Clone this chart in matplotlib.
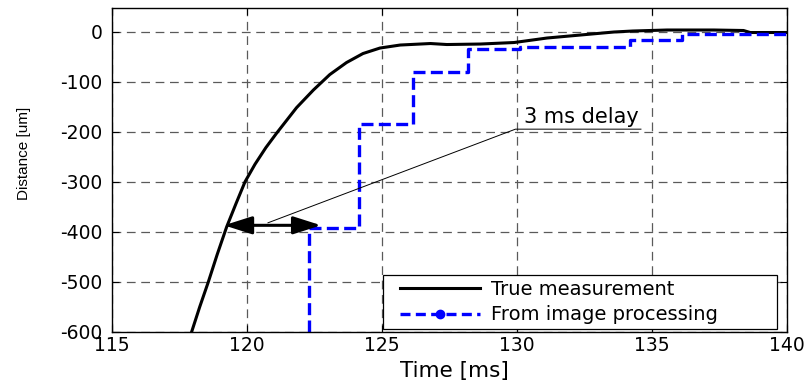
import numpy as np
import matplotlib
matplotlib.use('Agg')
import matplotlib.pyplot as plt
from matplotlib.lines import Line2D
from matplotlib.legend_handler import HandlerLine2D

plt.rcParams['font.family'] = ['DejaVu Sans']
plt.rcParams['axes.unicode_minus'] = False

t_true = [117.95, 118.25, 118.57, 118.9, 119.25, 119.6, 119.93, 120.3, 120.7, 121.1,
          121.84, 122.46, 123.07, 123.69, 124.3, 124.93, 125.68, 126.8, 127.41, 128.65,
          129.9, 131.12, 132.36, 133.6, 134.3, 135.57, 137.3, 138.4, 138.65, 140.0]
d_true = [-600, -550, -500, -445, -390, -343, -300, -265, -232, -203,
          -152, -117, -86, -62, -44, -33, -27, -24, -26, -25,
          -22, -13, -7, -1, 1, 3, 3, 2, -2, -2]

# image processing steps
t_img = [122.3, 122.3, 124.15, 124.15, 126.15, 126.15, 128.2, 128.2, 130.13, 130.13,
         134.2, 134.2, 136.13, 136.13, 140.0]
d_img = [-600, -393, -393, -185, -185, -80, -80, -35, -35, -30,
         -30, -17, -17, -4, -4]

xticks = [115, 120, 125, 130, 135, 140]
yticks = [-600, -500, -400, -300, -200, -100, 0]

# delay annotation
arrow_t = [119.15, 122.75]
arrow_d = -387
note_t = [120.78, 129.95, 134.6]
note_d = [-382, -195, -195]

fig = plt.figure(figsize=(8.08, 3.85), dpi=100)
ax = fig.add_axes([0.1386, 0.1377, 0.835, 0.8416])

ax.plot(t_true, d_true, color='black', lw=2.2)
ax.plot(t_img, d_img, color='blue', lw=2.4, ls=(0, (3.6, 1.6)))

ax.set_xlim(115, 140)
ax.set_ylim(-600, 47)
ax.set_xticks(xticks)
ax.set_yticks(yticks)
ax.tick_params(direction='in', top=True, right=True, labelsize=13.5, length=5)
ax.tick_params(axis='x', pad=3)
ax.tick_params(axis='y', pad=7)
ax.grid(True, ls=(0, (7, 4.5)), color='#5a5a5a', lw=0.9)
for s in ax.spines.values():
    s.set_linewidth(1.0)

ax.set_xlabel('Time [ms]', fontsize=15.5)
ax.xaxis.set_label_coords(0.508, -0.09)
ax.set_ylabel('Distance [um]', fontsize=11, family='Liberation Sans')
ax.yaxis.set_label_coords(-0.12, 0.55)

ax.annotate('', xy=(arrow_t[0], arrow_d), xytext=(arrow_t[1], arrow_d),
            arrowprops=dict(arrowstyle='<|-|>,head_length=0.85,head_width=0.27',
                            color='black', lw=2.2, mutation_scale=20,
                            shrinkA=0, shrinkB=0))
ax.plot(note_t, note_d, color='black', lw=0.7)
ax.text(130.25, -183, '3 ms delay', fontsize=15, ha='left', va='baseline')

h = [Line2D([], [], color='black', lw=2.2),
     Line2D([], [], color='blue', lw=2.4, ls=(0, (3.0, 1.6)), marker='o', markersize=6)]
leg = ax.legend(h, ['True measurement', 'From image processing'], loc='lower left',
                bbox_to_anchor=(0.4017, 0.0083, 0.584, 0.192), mode='expand',
                borderaxespad=0, fontsize=14, fancybox=False, edgecolor='black',
                framealpha=1, borderpad=0.25, handlelength=4.74, handletextpad=0.57,
                labelspacing=0.35,
                handler_map={Line2D: HandlerLine2D(xpad=0.62)})
leg.get_frame().set_linewidth(0.9)

fig.savefig('out.png', dpi=100)
